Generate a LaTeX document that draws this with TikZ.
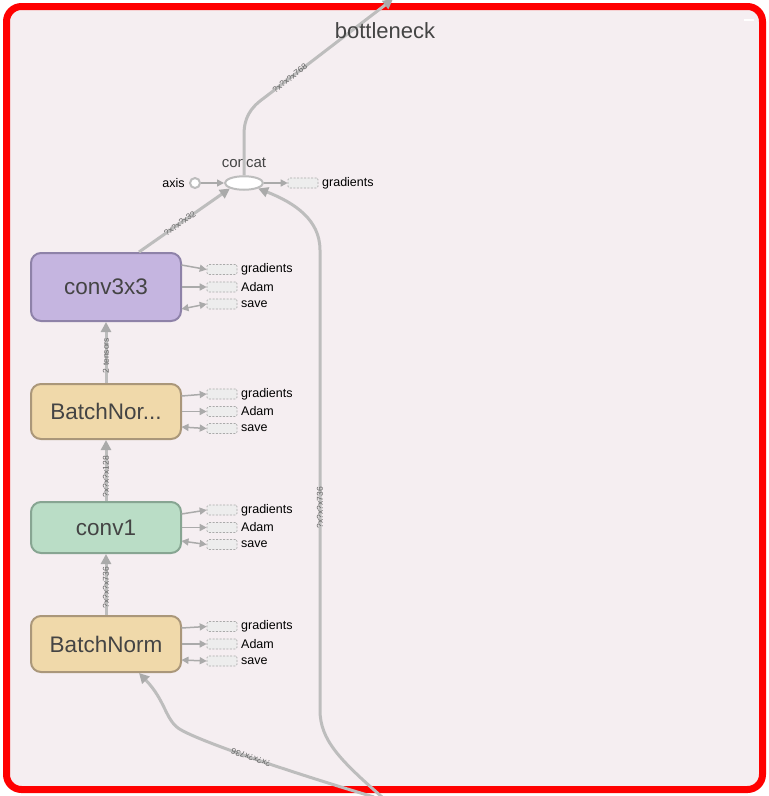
\documentclass[tikz,border=0pt]{standalone}
\usepackage{fontspec}
\setmainfont{Liberation Sans}
\usetikzlibrary{calc,arrows.meta,shapes.geometric}
\definecolor{bg}{HTML}{F5EEF1}
\definecolor{edgegray}{HTML}{BDBDBD}
\definecolor{auxgray}{HTML}{AAAAAA}
\definecolor{nodetext}{HTML}{444444}
\definecolor{lblgray}{HTML}{666666}
\definecolor{purfill}{HTML}{C5B5E0}
\definecolor{purdraw}{HTML}{8E82A8}
\definecolor{yelfill}{HTML}{F0D9AA}
\definecolor{yeldraw}{HTML}{AA977A}
\definecolor{grnfill}{HTML}{BADDC6}
\definecolor{grndraw}{HTML}{87A592}
\begin{document}
\begin{tikzpicture}[x=1pt,y=-1pt,
  edge/.style={draw=edgegray, line width=3pt, -{Triangle[length=10pt,width=10pt,color=auxgray]}},
  auxarrow/.style={draw=auxgray, line width=1.5pt, -{Triangle[length=7pt,width=7pt]}},
  auxboth/.style={draw=auxgray, line width=1.5pt, {Triangle[length=7pt,width=7pt]}-{Triangle[length=7pt,width=7pt]}},
  elabel/.style={font=\fontsize{8.5}{8.5}\selectfont, text=lblgray, inner sep=0pt},
  dbox/.style={draw=auxgray, dash pattern=on 2pt off 1.5pt, line width=0.6pt, fill=black!7, minimum width=30pt, minimum height=10pt, inner sep=0pt, rounded corners=1.5pt},
  auxlabel/.style={font=\fontsize{12.5}{12.5}\selectfont, text=black, inner sep=0pt, anchor=west},
  opbox/.style={rounded corners=10pt, line width=2pt, minimum width=150pt, inner sep=0pt, font=\fontsize{22.5}{22.5}\selectfont, text=nodetext}
]
\useasboundingbox (0,0) rectangle (769,796);
\fill[white] (0,0) rectangle (769,796);
\draw[red, line width=7pt, fill=bg, rounded corners=15pt] (6.5,6.5) rectangle (762.5,789.5);
\draw[white, line width=2pt] (744,20) -- (754,20);

% concat
\node[ellipse, draw=edgegray, line width=2pt, fill=white, minimum width=38pt, minimum height=13.5pt, inner sep=0pt] (concat) at (244,183) {};
\node[font=\fontsize{15}{15}\selectfont, text=nodetext] (concatlbl) at (244,163) {concat};
\node[circle, draw=edgegray, line width=2pt, fill=white, minimum size=10pt, inner sep=0pt] (axis) at (195,183) {};
\node[font=\fontsize{12.5}{12.5}\selectfont, text=black, inner sep=0pt] (axislbl) at (173.5,183) {axis};
\node[dbox] (cg) at (303,183) {};
\node[auxlabel] (cgl) at (322,183) {gradients};
\draw[auxarrow] (axis) -- (concat);
\draw[auxarrow] (concat) -- (cg);

% op boxes
\node[opbox, draw=purdraw, fill=purfill, minimum height=68pt] (c3) at (106,287) {conv3x3};
\node[opbox, draw=yeldraw, fill=yelfill, minimum height=55pt] (bnA) at (106,411.5) {BatchNor...};
\node[opbox, draw=grndraw, fill=grnfill, minimum height=51pt] (c1) at (106,527.5) {conv1};
\node[opbox, draw=yeldraw, fill=yelfill, minimum height=56pt] (bnB) at (106,644) {BatchNorm};

\foreach \b/\c/\h in {c3/287/68, bnA/411.5/55, c1/527.5/51, bnB/644/56} {
  \pgfmathsetmacro{\o}{\h/2-12}
  \node[dbox] (\b-g) at (222,\c-17.5) {};
  \node[dbox] (\b-a) at (222,\c) {};
  \node[dbox] (\b-s) at (222,\c+17) {};
  \node[auxlabel] (\b-gl) at (241,\c-17.5) {gradients};
  \node[auxlabel] (\b-al) at (241,\c) {Adam};
  \node[auxlabel] (\b-sl) at (241,\c+17) {save};
  \draw[auxarrow] ($(\b.east)+(-0.5,-\o)$) -- (\b-g.west);
  \draw[auxarrow] (\b.east) -- (\b-a.west);
  \draw[auxboth] ($(\b.east)+(-0.5,\o)$) -- (\b-s.west);
}

% main edges
\draw[edge] (bnB.north) -- node[elabel, sloped, pos=0.45] {?x?x?x736} (c1.south);
\draw[edge] (c1.north) -- node[elabel, sloped, pos=0.4] {?x?x?x128} (bnA.south);
\draw[edge] (bnA.north) -- node[elabel, sloped, pos=0.45] {2 tensors} (c3.south);
\draw[edge] ($(c3.north)+(33,0)$) -- node[elabel, sloped, pos=0.45] {?x?x?x32} (concat.south west);

\coordinate (out) at (393,-1);
\draw[edge] (concat.north) -- (244,135) .. controls (244,118) and (250,108) .. (264,98) -- node[elabel, sloped, pos=0.2] {?x?x?x768} (out);

\coordinate (srcA) at (374,797);
\coordinate (srcB) at (382,797);
\draw[edge] (srcB) .. controls (340,760) and (320,740) .. (320,710) -- node[elabel, sloped, pos=0.44] {?x?x?x736} (320,250) .. controls (320,220) and (295,203) .. (concat.south east);
\draw[edge] (srcA) .. controls (290,772) and (195,740) .. node[elabel, sloped, allow upside down, pos=0.5] {?x?x?x736} (178,728) .. controls (165,718) and (165,700) .. ($(bnB.south)+(33,0)$);

\node[font=\fontsize{22}{22}\selectfont, text=nodetext] (title) at (385,31) {bottleneck};
\end{tikzpicture}
\end{document}
